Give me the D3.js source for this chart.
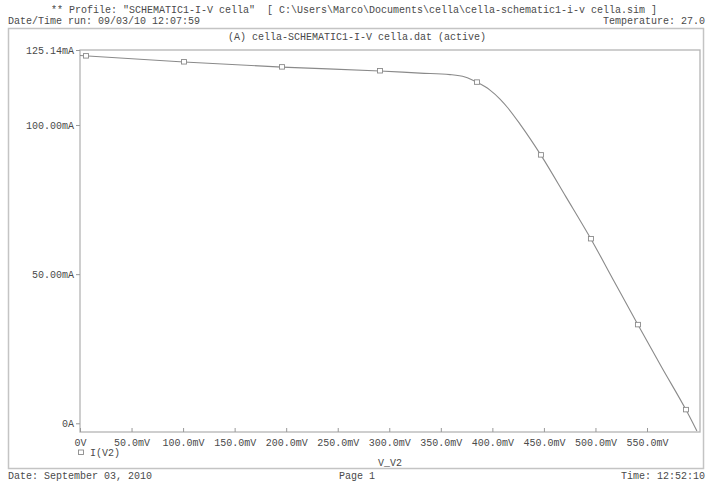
<!DOCTYPE html>
<html><head><meta charset="utf-8">
<script src="https://cdn.jsdelivr.net/npm/d3@7"></script>
<style>
html,body{margin:0;padding:0;background:#fff;}
svg text{font-family:"Liberation Mono","DejaVu Sans Mono",monospace;font-size:10px;fill:#4a4a4a;white-space:pre;}
</style></head>
<body>
<svg id="c" width="706" height="485"></svg>
<script>
// ---- data (V in mV, I in mA) ----
const curveV = [0, 100.9, 195.9, 291.0, 329.8, 358.9, 373.4, 385.1, 397.7, 407.4, 415.1, 426.8, 447.1, 471.4, 495.6, 517.9, 541.2, 564.5, 587.8, 598.4];
const curveI = [123.3, 121.1, 119.4, 118.1, 117.4, 116.9, 116.1, 114.3, 111.7, 108.7, 105.7, 100.3, 89.9, 75.9, 61.8, 47.7, 33.0, 18.6, 4.5, -2.6];
const markerV = [5.8, 100.9, 195.9, 291.0, 385.1, 447.1, 495.6, 541.2, 587.8];
const markerI = [123.1, 121.1, 119.4, 118.1, 114.3, 89.9, 61.8, 33.0, 4.5];
const xTicks = [0, 50, 100, 150, 200, 250, 300, 350, 400, 450, 500, 550];
const xTickLabels = ["0V","50.0mV","100.0mV","150.0mV","200.0mV","250.0mV","300.0mV","350.0mV","400.0mV","450.0mV","500.0mV","550.0mV"];
const yTicks = [0, 50, 100, 125.14];
const yTickLabels = ["0A","50.00mA","100.00mA","125.14mA"];

const svg = d3.select("#c");
const L = 80, R = 700, T = 50, B = 432;
const x = d3.scaleLinear().domain([0, 601.4]).range([L, R]);
const y = d3.scaleLinear().domain([-2.92, 125.14]).range([B, T]);

const txt = "#4a4a4a";
// header
svg.append("text").attr("x", 51).attr("y", 13).text('** Profile: "SCHEMATIC1-I-V cella"  [ C:\\Users\\Marco\\Documents\\cella\\cella-schematic1-i-v cella.sim ]');
svg.append("text").attr("x", 8).attr("y", 24).text("Date/Time run: 09/03/10 12:07:59");
svg.append("text").attr("x", 705).attr("y", 24).attr("text-anchor","end").text("Temperature: 27.0");

// outer frame
svg.append("rect").attr("x", 8.5).attr("y", 28.5).attr("width", 695).attr("height", 440)
  .attr("fill","none").attr("stroke","#c4c4c4").attr("stroke-width",1.5);
svg.append("text").attr("x", 357).attr("y", 40).attr("text-anchor","middle").text("(A) cella-SCHEMATIC1-I-V cella.dat (active)");

// plot frame
svg.append("rect").attr("x", L).attr("y", T).attr("width", R-L).attr("height", B-T)
  .attr("fill","none").attr("stroke","#b4b4b4").attr("stroke-width",1.3);

// y axis
const yAxis = d3.axisLeft(y).tickValues(yTicks).tickSize(4).tickPadding(2)
  .tickFormat((d,i)=>yTickLabels[i]);
const gy = svg.append("g").attr("transform",`translate(${L},0)`).call(yAxis);
gy.select(".domain").remove();
gy.selectAll("line").attr("stroke","#999");
gy.selectAll("text").attr("fill",txt).style("font-family","Liberation Mono, monospace").style("font-size","10px");

// x axis (ticks inward)
const xAxis = d3.axisBottom(x).tickValues(xTicks).tickSizeInner(-4).tickSizeOuter(0).tickPadding(7)
  .tickFormat((d,i)=>xTickLabels[i]);
const gx = svg.append("g").attr("transform",`translate(0,${B})`).call(xAxis);
gx.select(".domain").remove();
gx.selectAll("line").attr("stroke","#999");
gx.selectAll("text").attr("fill",txt).style("font-family","Liberation Mono, monospace").style("font-size","10px");

// clip
svg.append("clipPath").attr("id","clp").append("rect").attr("x",L).attr("y",T).attr("width",R-L).attr("height",B-T);

const pts = curveV.map((v,i)=>[v, curveI[i]]);
const line = d3.line().x(d=>x(d[0])).y(d=>y(d[1])).curve(d3.curveMonotoneX);
svg.append("path").attr("d", line(pts)).attr("fill","none").attr("stroke","#8a8a8a").attr("stroke-width",1.1)
  .attr("clip-path","url(#clp)");

const mk = markerV.map((v,i)=>[v, markerI[i]]);
svg.selectAll("rect.mk").data(mk).enter().append("rect").attr("class","mk")
  .attr("x", d=>x(d[0])-2.5).attr("y", d=>y(d[1])-2.5).attr("width",5).attr("height",4.5)
  .attr("fill","#fff").attr("stroke","#8a8a8a").attr("stroke-width",0.9);

// legend
svg.append("rect").attr("x", 78.5).attr("y", 450).attr("width",5).attr("height",4.5)
  .attr("fill","#fff").attr("stroke","#8a8a8a").attr("stroke-width",0.9);
svg.append("text").attr("x", 90).attr("y", 456).text("I(V2)");
// x title
svg.append("text").attr("x", 390).attr("y", 466).attr("text-anchor","middle").text("V_V2");

// footer
svg.append("text").attr("x", 8).attr("y", 479).text("Date: September 03, 2010");
svg.append("text").attr("x", 357).attr("y", 479).attr("text-anchor","middle").text("Page 1");
svg.append("text").attr("x", 705).attr("y", 479).attr("text-anchor","end").text("Time: 12:52:10");
</script>
</body></html>
